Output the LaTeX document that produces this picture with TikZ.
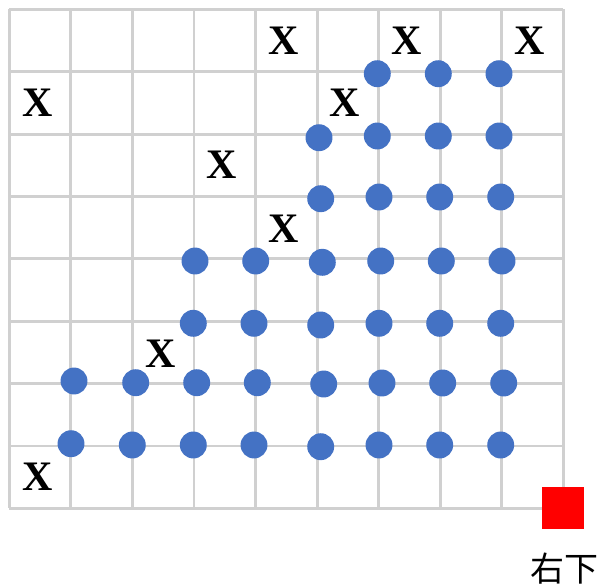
\documentclass[tikz,border=0pt]{standalone}
\usepackage{fontspec}
\setmainfont{Liberation Serif}
\newfontfamily\cjk{Noto Sans CJK SC}
\definecolor{dotblue}{HTML}{4472C4}
\definecolor{gridgray}{HTML}{D0D0D0}
\begin{document}
\begin{tikzpicture}[x=0.75pt,y=-0.75pt,
  gridline/.style={draw=gridgray,line width=2.2pt},
  dot/.style={circle,fill=dotblue,minimum size=20.2pt,inner sep=0pt},
  xmark/.style={inner sep=0pt,font=\fontsize{31.5}{31.5}\selectfont\bfseries},
  redsq/.style={fill=red,minimum size=31.5pt,inner sep=0pt},
  lbl/.style={inner sep=0pt,font=\cjk\fontsize{25.5}{25.5}\selectfont}]
\useasboundingbox (0,0) rectangle (602,585);
% grid
\foreach \i in {0,...,9}{
  \draw[gridline] (9.3+61.56*\i,9.3) -- (9.3+61.56*\i,508.3);
}
\foreach \j in {0,...,8}{
  \draw[gridline] (9.3,9.3+62.38*\j) -- (563.3,9.3+62.38*\j);
}
% dots
\foreach \p [count=\k] in {
  (377.3,73.7),(438.3,73.7),(499,73.7),
  (319,137.7),(377.3,136),(438.3,136),(499,136),
  (320.7,198.7),(379,197),(439.7,197),(500.7,197),
  (195,261),(255.7,261),(322.3,262.3),(380.7,261),(441.3,261),(502,261),
  (193.3,323.3),(254,323.3),(320.7,325),(379,323.3),(439.7,323.3),(500.7,323.3),
  (74,381),(135.7,382.7),(196.7,382.7),(257.3,382.7),(323.7,384),(382,383),(442.7,383),(503.7,383),
  (71,443.7),(132.3,445),(193.3,445),(254,445),(320.7,446.7),(379,445),(439.7,445),(500.7,445)}{
  \node[dot] (d\k) at \p {};
}
% X marks
\foreach \p [count=\k] in {
  (283.3,41),(406.7,41),(530,41),(37.7,102.7),(345,102.7),
  (221.7,165),(283.3,228.3),(161,353.3),(37.7,476.7)}{
  \node[xmark] (x\k) at \p {X};
}
% red square and label
\node[redsq] (sq) at (563,508) {};
\node[lbl] (lab) at (564,569) {右下};
\end{tikzpicture}
\end{document}
